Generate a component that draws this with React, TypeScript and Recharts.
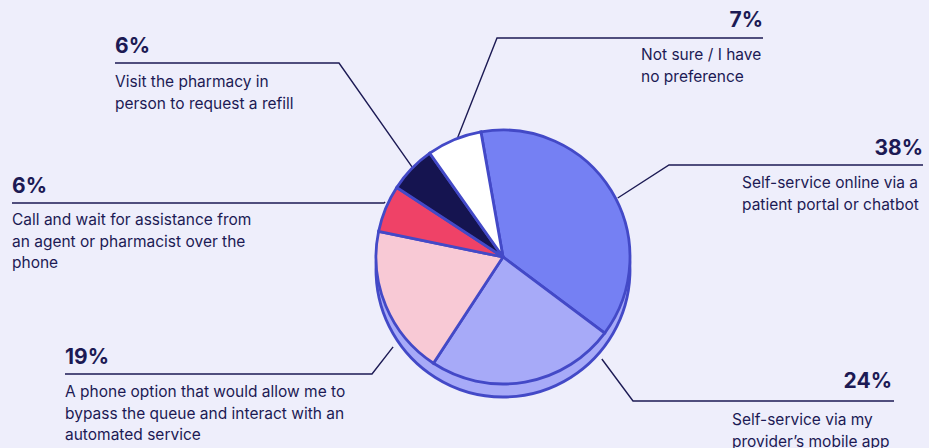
import React from 'react';
import { PieChart, Pie, Cell, Customized } from 'recharts';

// ---- data ----
const categories = [
  'Self-service online via a patient portal or chatbot',
  'Self-service via my provider’s mobile app',
  'A phone option that would allow me to bypass the queue and interact with an automated service',
  'Call and wait for assistance from an agent or pharmacist over the phone',
  'Visit the pharmacy in person to request a refill',
  'Not sure / I have no preference',
];
const values = [38, 24, 19, 6, 6, 7];
const percentLabels = ['38%', '24%', '19%', '6%', '6%', '7%'];
const labelLines = [
  ['Self-service online via a', 'patient portal or chatbot'],
  ['Self-service via my', 'provider’s mobile app'],
  ['A phone option that would allow me to', 'bypass the queue and interact with an', 'automated service'],
  ['Call and wait for assistance from', 'an agent or pharmacist over the', 'phone'],
  ['Visit the pharmacy in', 'person to request a refill'],
  ['Not sure / I have', 'no preference'],
];
const sideRing = [{ name: 'side', value: 100 }];

// ---- style / layout ----
const W = 929;
const H = 448;
const BG = '#EEEEFB';
const INK = '#1C1A54';
const EDGE = '#4349C7';
const SIDE = '#A7AAF8';
const sliceColors = ['#7580F3', '#A7AAF8', '#F8C9D5', '#EF4267', '#151450', '#FFFFFF'];
const CX = 503;
const CY = 257;
const R = 127;
const DEPTH = 13;
const START = 100; // recharts degrees (ccw from 3 o'clock)

// label layout
const labelLayout = [
  { anchor: 'end', px: 923, py: 155, ly: 165, lx1: 923, lx2: 669, tx: 742, ty: 188, ang: 62.8, dist: 129 },
  { anchor: 'end', px: 892, py: 388, ly: 401, lx1: 894, lx2: 633, tx: 732, ty: 425, ang: 135.9, dist: 142 },
  { anchor: 'start', px: 65, py: 364, ly: 374, lx1: 65, lx2: 372, tx: 65, ty: 397, ang: 230.7, dist: 142 },
  { anchor: 'start', px: 12, py: 193, ly: 203, lx1: 12, lx2: 384, tx: 12, ty: 225, ang: 295, dist: 130 },
  { anchor: 'start', px: 115, py: 53, ly: 63, lx1: 115, lx2: 339, tx: 115, ty: 87, ang: 314.7, dist: 128 },
  { anchor: 'end', px: 763, py: 27, ly: 38, lx1: 763, lx2: 497, tx: 641, ty: 60, ang: 338.5, dist: 126 },
];

const data = categories.map((name, i) => ({ name, value: values[i] }));
const total = values.reduce((a, b) => a + b, 0);

const rad = (d: number) => (d * Math.PI) / 180;

function Overlay() {
  const theta0 = 90 - START; // cw from top
  const ticks: React.ReactNode[] = [];
  let cum = 0;
  values.forEach((v, i) => {
    cum += v;
    const th = theta0 + (cum / total) * 360;
    const x = CX + R * Math.sin(rad(th));
    const y = CY - R * Math.cos(rad(th));
    if (Math.cos(rad(th)) < -0.2) {
      ticks.push(<line key={'t' + i} x1={x} y1={y} x2={x} y2={y + DEPTH} stroke={EDGE} strokeWidth={2.8} />);
    }
  });
  return (
    <g>
      {ticks}
      {labelLayout.map((L, i) => {
        const ex = CX + L.dist * Math.sin(rad(L.ang));
        const ey = CY - L.dist * Math.cos(rad(L.ang));
        return (
          <g key={i}>
            <polyline
              points={`${L.lx1},${L.ly} ${L.lx2},${L.ly} ${ex},${ey}`}
              fill="none"
              stroke={INK}
              strokeWidth={1.4}
            />
            <text x={L.px} y={L.py} textAnchor={L.anchor as any} fontFamily="Inter" fontWeight={700} fontSize={21} fill={INK}>
              {percentLabels[i]}
            </text>
            {labelLines[i].map((t, j) => (
              <text key={j} x={L.tx} y={L.ty + j * 21.5} fontFamily="Inter" fontSize={15.5} fill={INK}>
                {t}
              </text>
            ))}
          </g>
        );
      })}
    </g>
  );
}

export default function App() {
  return (
    <div style={{ position: 'absolute', left: 0, top: 0, width: W, height: H, background: BG, overflow: 'hidden' }}>
      <PieChart width={W} height={H} margin={{ top: 0, right: 0, bottom: 0, left: 0 }}>
        <Pie
          data={sideRing}
          dataKey="value"
          cx={CX}
          cy={CY + DEPTH}
          outerRadius={R}
          startAngle={90}
          endAngle={-270}
          fill={SIDE}
          stroke={EDGE}
          strokeWidth={2.8}
          isAnimationActive={false}
        />
        <Pie
          data={data}
          dataKey="value"
          nameKey="name"
          cx={CX}
          cy={CY}
          outerRadius={R}
          startAngle={START}
          endAngle={START - 360}
          stroke={EDGE}
          strokeWidth={2.8}
          isAnimationActive={false}
        >
          {data.map((d, i) => (
            <Cell key={d.name} fill={sliceColors[i]} />
          ))}
        </Pie>
        <Customized component={<Overlay />} />
      </PieChart>
    </div>
  );
}
